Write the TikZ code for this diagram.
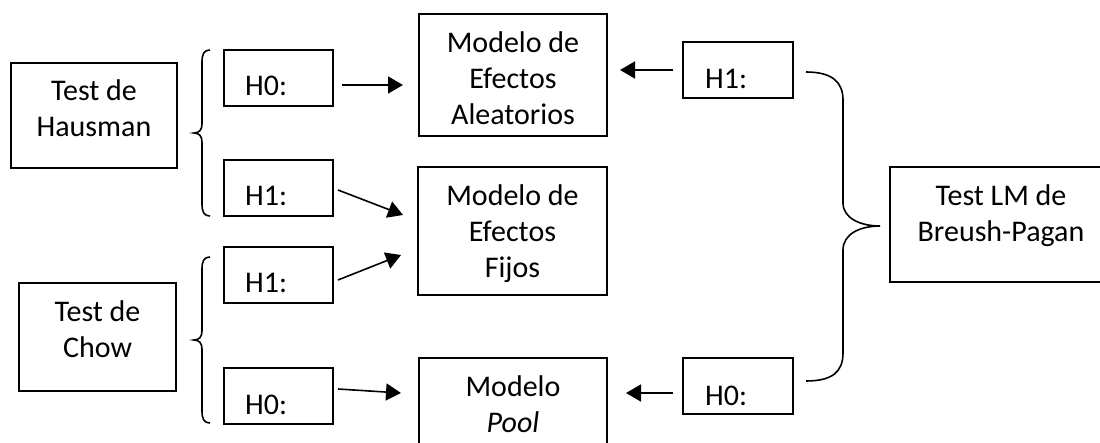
\documentclass[tikz,border=0pt]{standalone}
\usepackage{fontspec}
\setmainfont{Carlito}
\usetikzlibrary{arrows.meta,calc}
\begin{document}
\begin{tikzpicture}[x=1pt,y=-1pt,
  box/.style={draw, line width=1.6pt, rectangle, inner sep=0pt, outer sep=0pt, anchor=north west},
  lbl/.style={font=\fontsize{30}{36}\selectfont, align=center, anchor=base, inner sep=0pt},
  hl/.style={font=\fontsize{30}{36}\selectfont, anchor=base west, inner sep=0pt},
  arr/.style={line width=1.6pt, -{Triangle[length=15pt,width=17pt]}},
  brace/.style={line width=1.6pt}]
\clip (0,0) rectangle (1100,443);
% boxes
\node[box, minimum width=166pt, minimum height=105pt] (haus) at (11,63) {};
\node[box, minimum width=157pt, minimum height=108pt] (chow) at (19,283) {};
\node[box, minimum width=109pt, minimum height=56pt] (h0a) at (224,50) {};
\node[box, minimum width=109pt, minimum height=56pt] (h1a) at (224,160) {};
\node[box, minimum width=109pt, minimum height=56pt] (h1c) at (224,247) {};
\node[box, minimum width=109pt, minimum height=56pt] (h0c) at (224,368) {};
\node[box, minimum width=188pt, minimum height=122pt] (ale) at (419,14) {};
\node[box, minimum width=189pt, minimum height=128pt] (fij) at (418,167) {};
\node[box, minimum width=188pt, minimum height=100pt] (pool) at (419,358) {};
\node[box, minimum width=110pt, minimum height=56pt] (h1r) at (683,42) {};
\node[box, minimum width=110pt, minimum height=56pt] (h0r) at (683,358) {};
\node[box, minimum width=230pt, minimum height=115pt] (bp) at (890,167) {};
% texts (anchor base = baseline of the last line)
\node[lbl] (thaus) at ($(haus.north)+(0,74)$) {Test de\\Hausman};
\node[lbl] (tchow) at ($(chow.north)+(0,75)$) {Test de\\Chow};
\node[lbl] (tale) at ($(ale.north)+(0,111)$) {Modelo de\\Efectos\\Aleatorios};
\node[lbl] (tfij) at ($(fij.north)+(0,111)$) {Modelo de\\Efectos\\Fijos};
\node[lbl] (tpool) at ($(pool.north)+(0,74)$) {Modelo\\\textit{Pool}};
\node[lbl] (tbp) at ($(bp.north)+(-4,75)$) {Test LM de\\Breush-Pagan};
\node[hl] (th0a) at ($(h0a.north west)+(21,46)$) {H0:};
\node[hl] (th1a) at ($(h1a.north west)+(21,46)$) {H1:};
\node[hl] (th1c) at ($(h1c.north west)+(21,46)$) {H1:};
\node[hl] (th0c) at ($(h0c.north west)+(21,46)$) {H0:};
\node[hl] (th1r) at ($(h1r.north west)+(22,47)$) {H1:};
\node[hl] (th0r) at ($(h0r.north west)+(22,47)$) {H0:};
% arrows
\draw[arr] ($(h0a.east)+(9,7)$) -- ($(ale.west)+(-16,10)$);
\draw[arr] ($(h1a.east)+(5,2)$) -- ($(fij.west)+(-15,-16)$);
\draw[arr] ($(h1c.east)+(5,5)$) -- ($(fij.west)+(-17,24)$);
\draw[arr] ($(h0c.east)+(5,-7)$) -- ($(pool.north west)+(-18,35)$);
\draw[arr] ($(h1r.west)+(-10,0)$) -- ($(ale.east)+(13,-5)$);
\draw[arr] ($(h0r.west)+(-10,7)$) -- ($(pool.north east)+(19,35)$);
% braces
\draw[brace] (210,50) .. controls (204,50) and (202,54) .. (202,62) -- (202,124)
  .. controls (202,130) and (199,133) .. (194,133)
  .. controls (199,133) and (202,136) .. (202,142) -- (202,204)
  .. controls (202,212) and (204,216) .. (210,216);
\draw[brace] (210,257) .. controls (204,257) and (202,261) .. (202,269) -- (202,331)
  .. controls (202,337) and (199,340) .. (194,340)
  .. controls (199,340) and (202,343) .. (202,349) -- (202,411)
  .. controls (202,419) and (204,423) .. (210,423);
\draw[brace] (806,72) .. controls (832,72) and (843,82) .. (843,100) -- (843,203)
  .. controls (843,218) and (860,226) .. (880,226)
  .. controls (860,226) and (843,234) .. (843,250) -- (843,353)
  .. controls (843,372) and (832,381) .. (806,381);
\end{tikzpicture}
\end{document}
